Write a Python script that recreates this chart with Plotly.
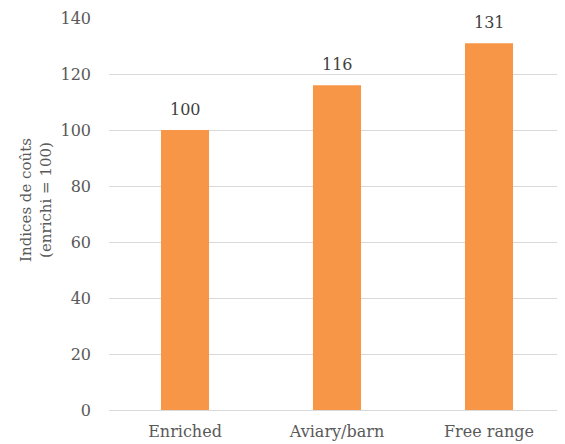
import plotly.graph_objects as go

categories = ["Enriched", "Aviary/barn", "Free range"]
values = [100, 116, 131]
y_title = "Indices de coûts<br>(enrichi = 100)"

FONT = "DejaVu Serif"

fig = go.Figure(go.Bar(
    x=categories, y=values,
    marker=dict(color="#F79646", line=dict(width=0)),
    width=0.316,
    hoverinfo="x+y",
))

for c, v in zip(categories, values):
    fig.add_annotation(
        x=c, y=v, xref="x", yref="y", text=str(v),
        showarrow=False, yanchor="bottom", yshift=9,
        font=dict(family=FONT, size=16, color="#404040"),
    )

fig.add_annotation(
    text=y_title, textangle=-90,
    xref="paper", yref="paper", x=0, y=0.536,
    xanchor="center", yanchor="middle", xshift=-73,
    showarrow=False, align="center",
    font=dict(family=FONT, size=15, color="#595959"),
)

fig.update_layout(
    width=557, height=436,
    margin=dict(l=101, r=0, t=10, b=34),
    paper_bgcolor="white", plot_bgcolor="white",
    showlegend=False,
    font=dict(family=FONT, size=16, color="#595959"),
    xaxis=dict(showgrid=False, showline=False, ticks="", ticklabelstandoff=10,
               tickfont=dict(size=16, color="#595959")),
    yaxis=dict(range=[0, 140], dtick=20, showgrid=True, gridcolor="#d9d9d9", gridwidth=1,
               zeroline=True, zerolinecolor="#d9d9d9", zerolinewidth=1,
               ticks="", ticklabelstandoff=17,
               tickfont=dict(size=16, color="#595959")),
)

fig.write_html("out.html")
